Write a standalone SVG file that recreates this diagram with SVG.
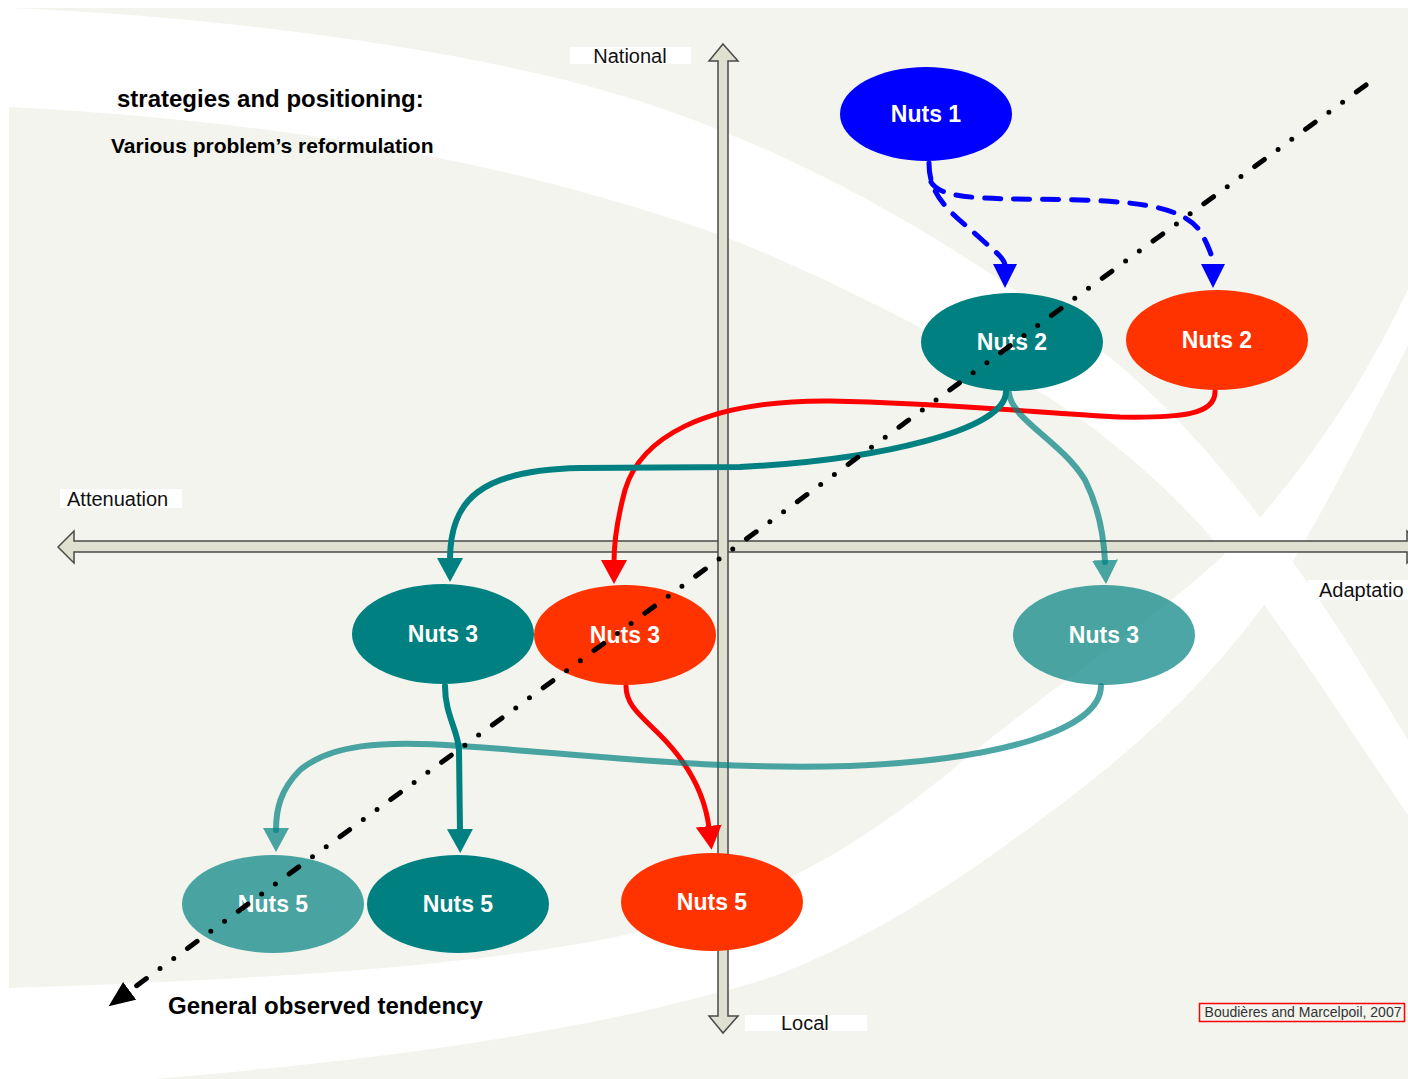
<svg xmlns="http://www.w3.org/2000/svg" width="1408" height="1079" viewBox="0 0 1408 1079">
<style>
text{font-family:"Liberation Sans",Arial,sans-serif}
.lbl{font-size:20px;fill:#111}
.bold{font-weight:bold;fill:#000}
.nt{font-size:23px;font-weight:bold;fill:#fff;text-anchor:middle}
.box{fill:#fff}
.axis{fill:#dfe0cf;stroke:#4a4a4a;stroke-width:1.5}
.teal{fill:#008080}
.lteal{fill:#008080;fill-opacity:0.7}
.red{fill:#ff3300}
.blue{fill:#0000ff}
.c{fill:none;stroke-linecap:round}
.ct{stroke:#008080;stroke-width:6}
.cl{stroke:#008080;stroke-opacity:0.7;stroke-width:6}
.cr{stroke:#ff0000;stroke-width:5}
.cb{stroke:#0000ff;stroke-width:5;stroke-dasharray:16 13}
.trend{fill:none;stroke:#000;stroke-width:5;stroke-linecap:round;stroke-dasharray:12 17 0 17 0 17}
</style>
<defs>
<marker id="ahT" markerUnits="userSpaceOnUse" markerWidth="30" markerHeight="30" refX="2" refY="13" orient="auto"><path d="M0,0 L24,13 L0,26 Z" fill="#008080"/></marker>
<marker id="ahL" markerUnits="userSpaceOnUse" markerWidth="30" markerHeight="30" refX="2" refY="13" orient="auto"><path d="M0,0 L24,13 L0,26 Z" fill="#008080" fill-opacity="0.7"/></marker>
<marker id="ahR" markerUnits="userSpaceOnUse" markerWidth="30" markerHeight="30" refX="2" refY="13" orient="auto"><path d="M0,0 L24,13 L0,26 Z" fill="#ff0000"/></marker>
<marker id="ahB" markerUnits="userSpaceOnUse" markerWidth="30" markerHeight="30" refX="2" refY="12" orient="auto"><path d="M0,0 L24,12 L0,24 Z" fill="#0000ff"/></marker>
<marker id="ahK" markerUnits="userSpaceOnUse" markerWidth="32" markerHeight="32" refX="2" refY="11" orient="auto"><path d="M0,0 L26,11 L0,22 Z" fill="#000"/></marker>
</defs>

<g id="background">
<rect x="0" y="0" width="1408" height="1079" fill="#ffffff"/>
<rect x="9" y="8" width="1399" height="1071" fill="#f2f4ed"/>
<path d="M9,8 C200,15 450,45 620,95 C800,150 950,240 1100,350 C1200,425 1300,560 1408,740 L1408,815 C1330,700 1260,590 1200,525 C1130,450 1060,400 1000,370 C900,315 780,255 700,228 C550,178 350,125 9,107 Z" fill="#fff"/>
<path d="M9,988 C250,980 450,968 600,940 C780,905 880,830 970,755 C1080,665 1200,590 1264,513 C1330,435 1375,360 1408,289 L1408,345 C1370,420 1330,500 1287,571 C1230,660 1150,740 1040,820 C960,880 870,940 772,977 C600,1030 400,1058 155,1079 L9,1079 Z" fill="#fff"/>
</g>

<g id="axes">
<polygon class="axis" points="58,547 74,531 74,541 1407,541 1407,531 1423,547 1407,563 1407,552 74,552 74,563"/>
<polygon class="axis" points="723,44 738,61 728,61 728,1016 738,1016 723,1033 709,1016 718,1016 718,61 709,61"/>
</g>

<g id="labels">
<rect class="box" x="570" y="47" width="121" height="17"/>
<text class="lbl" x="630" y="63" text-anchor="middle">National</text>
<rect class="box" x="60" y="489" width="122" height="19"/>
<text class="lbl" x="67" y="506">Attenuation</text>
<rect class="box" x="1308" y="580" width="100" height="20"/>
<text class="lbl" x="1319" y="597">Adaptatio</text>
<rect class="box" x="745" y="1015" width="122" height="16"/>
<text class="lbl" x="781" y="1030">Local</text>
<text class="bold" x="117" y="107" font-size="24">strategies and positioning:</text>
<text class="bold" x="111" y="153" font-size="21">Various problem’s reformulation</text>
<text class="bold" x="168" y="1014" font-size="24">General observed tendency</text>
<rect x="1199.5" y="1003.5" width="205" height="18" fill="none" stroke="#ff0000" stroke-width="1.5"/>
<text x="1303" y="1017" font-size="14" fill="#333" text-anchor="middle">Boudières and Marcelpoil, 2007</text>
</g>

<g id="connectors">
<path class="c cb" d="M929,163 C929,200 955,215 980,238 C995,252 1005,258 1005,266" marker-end="url(#ahB)"/>
<path class="c cb" d="M931,182 C942,202 1000,198 1080,200 C1150,202 1190,210 1203,236 C1210,250 1213,258 1213,266" marker-end="url(#ahB)"/>
<path class="c cr" d="M1215,391 C1216,415 1180,418 1120,417 C1050,414 950,403 830,401 C700,400 640,440 625,490 C617,520 614,545 614,562" marker-end="url(#ahR)"/>
<path class="c cr" d="M626,686 C626,705 640,715 660,735 C690,765 705,795 709,828" marker-end="url(#ahR)"/>
<path class="c ct" d="M1006,392 C1005,430 880,460 740,467 L580,468 C480,470 450,500 450,560" marker-end="url(#ahT)"/>
<path class="c ct" d="M445,686 C445,715 458,730 459,750 L460,831" marker-end="url(#ahT)"/>
<path class="c cl" d="M1009,393 C1012,420 1060,440 1085,480 C1100,510 1104,540 1105,562" marker-end="url(#ahL)"/>
<path class="c cl" d="M1101,686 C1100,730 1000,760 850,766 C700,770 600,755 460,746 C380,740 330,745 300,770 C280,790 276,810 276,830" marker-end="url(#ahL)"/>
</g>

<g id="n1"><ellipse class="blue" cx="926" cy="114" rx="86" ry="47"/><text class="nt" x="926" y="122">Nuts 1</text></g>
<g id="n2t"><ellipse class="teal" cx="1012" cy="342" rx="91" ry="49"/><text class="nt" x="1012" y="350">Nuts 2</text></g>
<g id="n2r"><ellipse class="red" cx="1217" cy="340" rx="91" ry="50"/><text class="nt" x="1217" y="348">Nuts 2</text></g>
<g id="n3t"><ellipse class="teal" cx="443" cy="634" rx="91" ry="50"/><text class="nt" x="443" y="642">Nuts 3</text></g>
<g id="n3r"><ellipse class="red" cx="625" cy="635" rx="91" ry="50"/><text class="nt" x="625" y="643">Nuts 3</text></g>
<g id="n3l"><ellipse class="lteal" cx="1104" cy="635" rx="91" ry="50"/><text class="nt" x="1104" y="643">Nuts 3</text></g>
<g id="n5l"><ellipse class="lteal" cx="273" cy="904" rx="91" ry="49"/><text class="nt" x="273" y="912">Nuts 5</text></g>
<g id="n5t"><ellipse class="teal" cx="458" cy="904" rx="91" ry="49"/><text class="nt" x="458" y="912">Nuts 5</text></g>
<g id="n5r"><ellipse class="red" cx="712" cy="902" rx="91" ry="49"/><text class="nt" x="712" y="910">Nuts 5</text></g>

<g id="trend">
<path class="trend" d="M1366,85 L128,992" marker-end="url(#ahK)"/>
</g>
</svg>
